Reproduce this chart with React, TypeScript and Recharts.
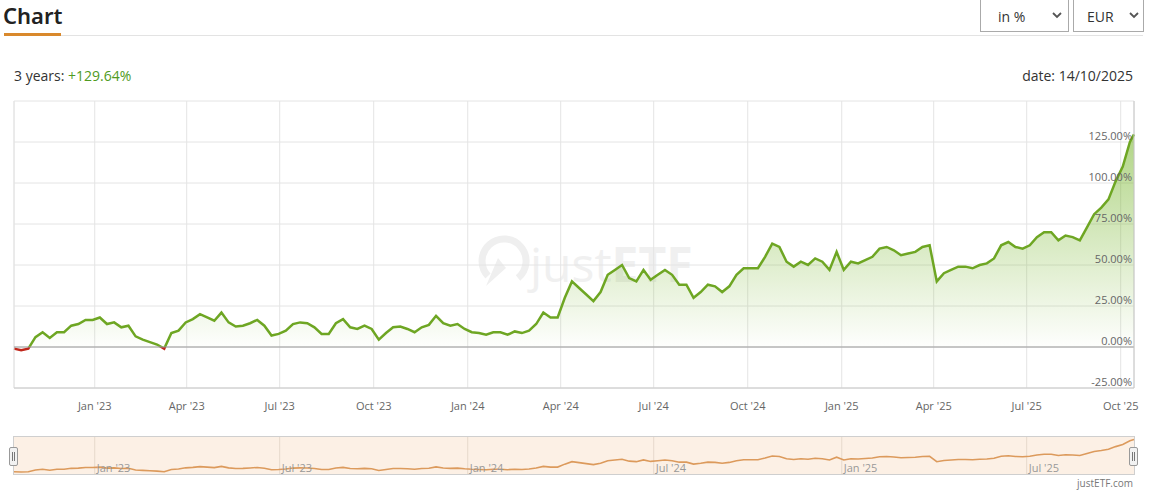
import { ComposedChart, Area, Line, LineChart, XAxis, YAxis, CartesianGrid, ReferenceLine } from 'recharts'

const START = '2022-10-14'
const END = '2025-10-14'
const STEP_DAYS = 7

// weekly performance in %
const PERF = [
  -1, -2, -1, 6, 9, 5.5, 9, 9, 13, 14,
  16.5, 16.5, 18, 14, 15, 12, 13, 6.5, 4.5, 3,
  1.5, -1, 8.5, 10, 15, 17, 20, 18, 16, 21,
  15, 12.5, 13, 14.5, 16.5, 13, 7, 8, 10, 14,
  15, 14.5, 12, 8, 8, 14.5, 17, 12, 11, 13,
  11, 4.5, 8.5, 12, 12.5, 11, 9, 12, 13.5, 19,
  14.5, 13, 14, 11, 9, 8.5, 7.5, 9, 9, 7.5,
  9.5, 8.5, 10, 14, 21, 18, 18, 30, 40, 36,
  32, 28, 33.5, 44, 47, 50, 42, 40, 47, 41,
  44, 47, 44, 38, 38, 30, 33.5, 38, 37, 33.5,
  37, 44, 48, 48, 48, 55, 63, 61, 52, 49,
  52, 50, 54, 52, 47, 58, 47, 52, 51, 53,
  55, 60, 61, 59, 56, 57, 58, 61, 62, 40,
  45, 47, 49, 49, 48, 50, 51, 54, 62, 64,
  61, 60, 62, 67, 70, 70, 65, 68, 67, 65,
  73, 81, 85, 90, 101, 110, 125,
]
const LAST_PERF = 129.64

const Y_TICKS = [-25, 0, 25, 50, 75, 100, 125, 150]

const X_TICKS = [
  '2023-01-01', '2023-04-01', '2023-07-01', '2023-10-01',
  '2024-01-01', '2024-04-01', '2024-07-01', '2024-10-01',
  '2025-01-01', '2025-04-01', '2025-07-01', '2025-10-01',
]
const X_LABELS = [
  "Jan '23", "Apr '23", "Jul '23", "Oct '23",
  "Jan '24", "Apr '24", "Jul '24", "Oct '24",
  "Jan '25", "Apr '25", "Jul '25", "Oct '25",
]

const NAV_TICKS = ['2023-01-01', '2023-07-01', '2024-01-01', '2024-07-01', '2025-01-01', '2025-07-01']
const NAV_LABELS = ["Jan '23", "Jul '23", "Jan '24", "Jul '24", "Jan '25", "Jul '25"]

const DAY = 86400000
const t0 = Date.parse(START)
const tEnd = Date.parse(END)
const data = PERF.map((v, i) => ({ t: t0 + i * STEP_DAYS * DAY, v }))
data.push({ t: tEnd, v: LAST_PERF })

const xTicks = X_TICKS.map((d) => Date.parse(d))
const navTicks = NAV_TICKS.map((d) => Date.parse(d))

const maxV = Math.max(...data.map((d) => d.v))
const minV = Math.min(...data.map((d) => d.v))
const zeroOff = maxV / (maxV - minV)

const FONT = '"Open Sans", "Noto Sans", sans-serif'

// y labels sit just above their grid line, right aligned inside the plot
const renderYTick = (props: any) => {
  const { x, y, payload } = props
  if (payload.value === 150) return <g />
  return (
    <text x={x} y={y - 5} textAnchor="end" dominantBaseline="middle" fill="#666" fontSize={11} fontFamily={FONT}>
      {payload.value.toFixed(2) + '%'}
    </text>
  )
}

function Chevron({ left }: { left: number }) {
  return (
    <svg width={10} height={8} style={{ position: 'absolute', left, top: 12 }}>
      <polyline points="1,2 5,6 9,2" fill="none" stroke="#555" strokeWidth={1.8} />
    </svg>
  )
}

function Handle({ left }: { left: number }) {
  return (
    <div
      style={{
        position: 'absolute',
        left,
        top: 447,
        width: 7,
        height: 17,
        background: '#f2f2f2',
        border: '1px solid #999',
        borderRadius: 2,
      }}
    >
      <div style={{ position: 'absolute', left: 2, top: 4, width: 1, height: 9, background: '#777' }} />
      <div style={{ position: 'absolute', left: 4, top: 4, width: 1, height: 9, background: '#777' }} />
    </div>
  )
}

export default function App() {
  return (
    <div style={{ position: 'absolute', left: 0, top: 0, width: 1151, height: 498, background: '#fff', fontFamily: FONT, color: '#333' }}>
      {/* header */}
      <div style={{ position: 'absolute', left: 3, top: 0, fontSize: 22, fontWeight: 600, color: '#222', fontFamily: '"Noto Sans", sans-serif' }}>
        Chart
      </div>
      <div style={{ position: 'absolute', left: 61, top: 35, width: 1082, height: 1, background: '#e3e3e3' }} />
      <div style={{ position: 'absolute', left: 4, top: 33, width: 57, height: 3, background: '#d9892c' }} />

      <div style={{ position: 'absolute', left: 980, top: -2, width: 87, height: 32, border: '1px solid #aaa', fontSize: 14 }}>
        <span style={{ position: 'absolute', left: 17, top: 8 }}>in %</span>
        <Chevron left={71} />
      </div>
      <div style={{ position: 'absolute', left: 1073, top: -2, width: 69, height: 32, border: '1px solid #aaa', fontSize: 14 }}>
        <span style={{ position: 'absolute', left: 13, top: 8 }}>EUR</span>
        <Chevron left={55} />
      </div>

      <div style={{ position: 'absolute', left: 14, top: 66, fontSize: 14 }}>
        3 years: <span style={{ color: '#4f9a22' }}>+129.64%</span>
      </div>
      <div style={{ position: 'absolute', right: 18, top: 66, fontSize: 14 }}>date: 14/10/2025</div>

      {/* watermark */}
      <svg width={220} height={70} style={{ position: 'absolute', left: 474, top: 228 }}>
        <path d="M 14 48 A 22 22 0 1 1 44 50" fill="none" stroke="#efefef" strokeWidth={7} />
        <polygon points="12,58 24,30 32,40" fill="#efefef" />
        <text x={56} y={54} fontSize={48} fill="#f0f0f0" fontFamily={FONT}>
          just<tspan fontWeight={700}>ETF</tspan>
        </text>
      </svg>

      {/* main chart */}
      <div style={{ position: 'absolute', left: 0, top: 0 }}>
        <ComposedChart width={1151} height={425} data={data} margin={{ top: 101, right: 17, bottom: 7, left: 14 }}>
          <defs>
            <linearGradient id="perfFill" x1="0" y1="0" x2="0" y2="1">
              <stop offset="0%" stopColor="#76b52a" stopOpacity={0.95} />
              <stop offset="100%" stopColor="#76b52a" stopOpacity={0} />
            </linearGradient>
            <linearGradient id="perfStroke" x1="0" y1="0" x2="0" y2="1">
              <stop offset={zeroOff} stopColor="#6ea623" />
              <stop offset={zeroOff} stopColor="#c0261b" />
            </linearGradient>
          </defs>
          <CartesianGrid stroke="#e4e4e4" />
          <XAxis
            dataKey="t"
            type="number"
            scale="linear"
            domain={[t0, tEnd]}
            ticks={xTicks}
            tickFormatter={(v: number) => X_LABELS[xTicks.indexOf(v)]}
            axisLine={{ stroke: '#c8c8c8' }}
            tickLine={false}
            tickMargin={8}
            height={30}
            tick={{ fill: '#666', fontSize: 11, fontFamily: FONT }}
          />
          <YAxis
            orientation="right"
            mirror
            width={60}
            domain={[-25, 150]}
            ticks={Y_TICKS}
            interval={0}
            tick={renderYTick}
            tickSize={0}
            tickMargin={2}
            tickLine={false}
            axisLine={{ stroke: '#c8c8c8' }}
          />
          <ReferenceLine x={t0} stroke="#e4e4e4" />
          <ReferenceLine y={0} stroke="#9a9a9a" />
          <Area
            type="linear"
            dataKey="v"
            stroke="url(#perfStroke)"
            strokeWidth={2.5}
            fill="url(#perfFill)"
            dot={false}
            activeDot={false}
            isAnimationActive={false}
          />
        </ComposedChart>
      </div>

      {/* navigator */}
      <div style={{ position: 'absolute', left: 13, top: 436, width: 1120, height: 37, background: '#fcf0e5', border: '1px solid #cfcfcf' }} />
      <div style={{ position: 'absolute', left: 0, top: 437 }}>
        <LineChart width={1151} height={37} data={data} margin={{ top: 0, right: 17, bottom: 0, left: 14 }}>
          <XAxis dataKey="t" type="number" domain={[t0, tEnd]} hide />
          <YAxis domain={[-10, 140]} hide />
          {navTicks.map((t, i) => (
            <ReferenceLine
              key={t}
              x={t}
              stroke="#e6d9cc"
              label={{ value: NAV_LABELS[i], position: 'insideBottomLeft', offset: 2, fill: '#999', fontSize: 11, fontFamily: FONT }}
            />
          ))}
          <Line type="linear" dataKey="v" stroke="#dc9a5c" strokeWidth={1.6} dot={false} activeDot={false} isAnimationActive={false} />
        </LineChart>
      </div>
      <Handle left={9} />
      <Handle left={1129} />
      <div style={{ position: 'absolute', right: 18, top: 476, fontSize: 10, color: '#777' }}>justETF.com</div>
    </div>
  )
}
